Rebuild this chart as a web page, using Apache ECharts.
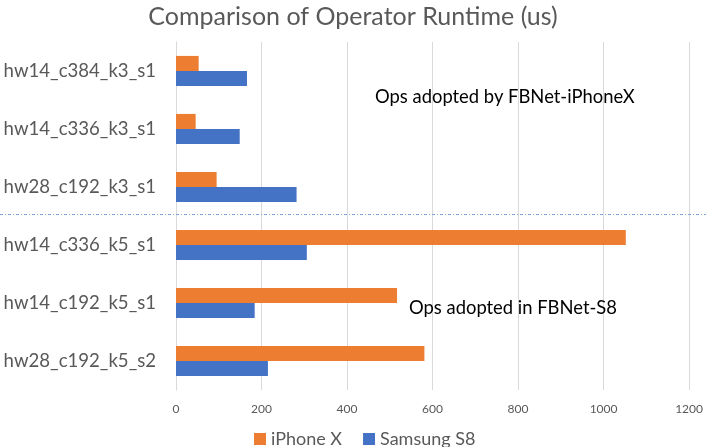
<!DOCTYPE html>
<html>
<head>
<meta charset="utf-8">
<script src="https://cdn.jsdelivr.net/npm/echarts@6/dist/echarts.min.js"></script>
<style>html,body{margin:0;padding:0;background:#fff}#c{width:706px;height:447px}</style>
</head>
<body>
<div id="c"></div>
<script>
const categories = ['hw14_c384_k3_s1','hw14_c336_k3_s1','hw28_c192_k3_s1','hw14_c336_k5_s1','hw14_c192_k5_s1','hw28_c192_k5_s2'];
const iphoneX = [53, 46, 95, 1052, 517, 581];
const samsungS8 = [166, 149, 282, 306, 184, 215];
const xTicks = [0, 200, 400, 600, 800, 1000, 1200];
const seriesNames = ['iPhone X', 'Samsung S8'];

const FONT = 'Lato, "Open Sans", sans-serif';
const chart = echarts.init(document.getElementById('c'));
chart.setOption({
  animation: false,
  backgroundColor: '#fff',
  title: {
    text: 'Comparison of Operator Runtime (us)',
    left: 'center', top: -1,
    textStyle: { fontFamily: FONT, fontSize: 25, fontWeight: 'normal', color: '#595959' }
  },
  legend: {
    data: seriesNames,
    top: 425, left: 249,
    itemWidth: 12, itemHeight: 12, itemGap: 21,
    icon: 'rect',
    textStyle: { fontFamily: FONT, fontSize: 18, color: '#595959' }
  },
  grid: { left: 176, right: 15, top: 42, bottom: 57, containLabel: false },
  xAxis: {
    type: 'value', min: xTicks[0], max: xTicks[xTicks.length - 1], interval: 200,
    axisLine: { show: false }, axisTick: { show: false },
    splitLine: { lineStyle: { color: '#D9D9D9', width: 1 } },
    axisLabel: { fontFamily: FONT, fontSize: 12, color: '#595959', margin: 13,
      formatter: function (v) { return String(v); } }
  },
  yAxis: {
    type: 'category', data: categories, inverse: true,
    axisLine: { show: true, lineStyle: { color: '#D9D9D9' } }, axisTick: { show: false },
    axisLabel: { fontFamily: FONT, fontSize: 18.6, color: '#595959', margin: 20 }
  },
  series: [
    { name: seriesNames[0], type: 'bar', data: iphoneX, itemStyle: { color: '#ED7D31' }, barGap: '0%', barCategoryGap: '48%' },
    { name: seriesNames[1], type: 'bar', data: samsungS8, itemStyle: { color: '#4472C4' }, barGap: '0%', barCategoryGap: '48%' }
  ]
});

// separator between the k3 group and the k5 group
const y2 = chart.convertToPixel({ yAxisIndex: 0 }, categories[2]);
const y3 = chart.convertToPixel({ yAxisIndex: 0 }, categories[3]);
const sepY = Math.round((y2 + y3) / 2) - 1.5;
chart.setOption({
  graphic: [
    { type: 'line', shape: { x1: 0, y1: sepY, x2: 706, y2: sepY },
      style: { stroke: '#7FA3E0', lineWidth: 1, lineDash: [3, 2, 1, 2] }, z: 100 },
    { type: 'text', left: 375, top: 88,
      style: { text: 'Ops adopted by FBNet-iPhoneX', fontFamily: FONT, fontSize: 18.4, fill: '#000' }, z: 100 },
    { type: 'text', left: 409, top: 299,
      style: { text: 'Ops adopted in FBNet-S8', fontFamily: FONT, fontSize: 18.4, fill: '#000' }, z: 100 }
  ]
});
</script>
</body>
</html>
